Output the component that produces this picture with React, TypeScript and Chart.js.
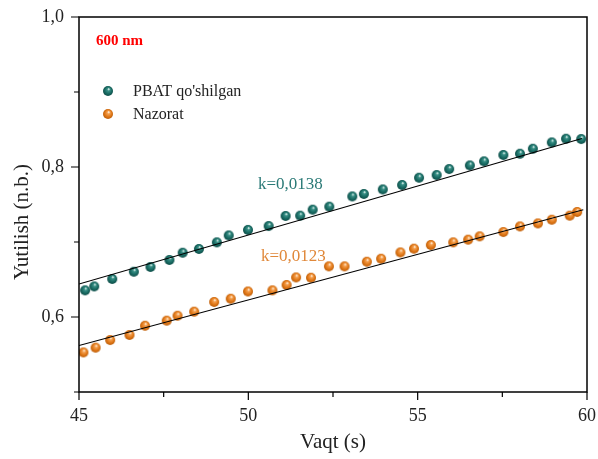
import React, { useEffect, useRef } from "react";
import { Chart, registerables } from "chart.js";
Chart.register(...registerables);

const pbatLabel = "PBAT qo'shilgan";
const nazLabel = "Nazorat";

const pbatX = [45.18, 45.45, 45.98, 46.62, 47.11, 47.67, 48.06, 48.54, 49.07, 49.42, 49.99, 50.6, 51.1, 51.53, 51.9, 52.39, 53.07, 53.41, 53.97, 54.54, 55.04, 55.56, 55.93, 56.54, 56.96, 57.53, 58.02, 58.4, 58.96, 59.38, 59.83];
const pbatY = [0.6355, 0.6408, 0.6507, 0.6604, 0.6667, 0.676, 0.6857, 0.6907, 0.6995, 0.7088, 0.7161, 0.7213, 0.7347, 0.7351, 0.7431, 0.7471, 0.7608, 0.764, 0.7701, 0.776, 0.7857, 0.7893, 0.7973, 0.8021, 0.8075, 0.816, 0.8177, 0.8244, 0.8328, 0.8377, 0.8373];

const nazX = [45.13, 45.49, 45.92, 46.49, 46.95, 47.59, 47.91, 48.4, 48.99, 49.48, 49.99, 50.71, 51.13, 51.41, 51.85, 52.38, 52.84, 53.5, 53.92, 54.49, 54.89, 55.39, 56.05, 56.49, 56.83, 57.53, 58.02, 58.55, 58.96, 59.49, 59.71];
const nazY = [0.5528, 0.5591, 0.5693, 0.576, 0.5884, 0.5951, 0.6017, 0.6071, 0.62, 0.6244, 0.634, 0.6355, 0.6427, 0.6528, 0.6524, 0.6675, 0.6675, 0.6737, 0.6777, 0.6861, 0.6911, 0.696, 0.6995, 0.7031, 0.7075, 0.7133, 0.7208, 0.7248, 0.7297, 0.7351, 0.74];

const pbatFitX = [45, 59.85];
const pbatFitY = [0.644, 0.838];
const nazFitX = [45, 59.89];
const nazFitY = [0.562, 0.743];

const xLabeledTicks = [45, 50, 55, 60];
const yLabeledTicks = [0.6, 0.8, 1.0];

const titleText = "600 nm";
const pbatK = "k=0,0138";
const nazK = "k=0,0123";
const xTitle = "Vaqt (s)";
const yTitle = "Yutilish (n.b.)";

const TEAL = "#1a6e66";
const ORANGE = "#e07818";
const SERIF = "'Liberation Serif', 'Times New Roman', serif";

function sphere(stops: [number, string][]): HTMLCanvasElement {
  const c = document.createElement("canvas");
  const r = 5;
  c.width = 12;
  c.height = 12;
  const g = c.getContext("2d")!;
  const grad = g.createRadialGradient(6.8, 4.0, 0.3, 6, 6, r + 0.5);
  stops.forEach(([o, col]) => grad.addColorStop(o, col));
  g.fillStyle = grad;
  g.beginPath();
  g.arc(6, 6, r, 0, Math.PI * 2);
  g.fill();
  return c;
}

const zip = (xs: number[], ys: number[]) => xs.map((x, i) => ({ x, y: ys[i] }));

const zeroPad = (s: any) => {
  s.paddingTop = 0;
  s.paddingBottom = 0;
  s.paddingLeft = 0;
  s.paddingRight = 0;
};

export default function App() {
  const ref = useRef<HTMLCanvasElement>(null);
  useEffect(() => {
    const tealSphere = sphere([
      [0, "#e6f4f1"],
      [0.22, "#3a9187"],
      [0.6, "#196b63"],
      [1, "#0c4742"],
    ]);
    const orangeSphere = sphere([
      [0, "#fff0dc"],
      [0.22, "#f4a050"],
      [0.6, "#e07818"],
      [1, "#b55806"],
    ]);

    const decor = {
      id: "decor",
      afterDraw(chart: any) {
        const { ctx, chartArea: a, scales } = chart;
        const xs = scales.x;
        const ys = scales.y;
        ctx.save();
        ctx.strokeStyle = "#000";
        ctx.lineWidth = 1.5;
        ctx.strokeRect(a.left, a.top, a.right - a.left, a.bottom - a.top);
        ctx.lineWidth = 1.2;
        ctx.beginPath();
        xs.ticks.forEach((t: any) => {
          const p = xs.getPixelForValue(t.value);
          const major = xLabeledTicks.some((v) => Math.abs(v - t.value) < 1e-6);
          ctx.moveTo(p, a.bottom);
          ctx.lineTo(p, a.bottom + (major ? 8 : 5));
        });
        ys.ticks.forEach((t: any) => {
          const p = ys.getPixelForValue(t.value);
          const major = yLabeledTicks.some((v) => Math.abs(v - t.value) < 1e-6);
          ctx.moveTo(a.left, p);
          ctx.lineTo(a.left - (major ? 8 : 5), p);
        });
        ctx.stroke();

        // header text
        ctx.fillStyle = "#ff0000";
        ctx.font = `bold 15px ${SERIF}`;
        ctx.textAlign = "left";
        ctx.textBaseline = "middle";
        ctx.fillText(titleText, 96, 41);

        // legend
        ctx.font = `16px ${SERIF}`;
        ctx.fillStyle = "#222";
        ctx.drawImage(tealSphere, 108 - 6, 91 - 6);
        ctx.fillText(pbatLabel, 133, 92);
        ctx.drawImage(orangeSphere, 108 - 6, 114 - 6);
        ctx.fillText(nazLabel, 133, 115);

        // k annotations
        ctx.font = `17px ${SERIF}`;
        ctx.fillStyle = "#2b7a77";
        ctx.fillText(pbatK, 258, 185);
        ctx.fillStyle = "#e0883a";
        ctx.fillText(nazK, 261, 257);

        // axis titles
        ctx.fillStyle = "#222";
        ctx.font = `21px ${SERIF}`;
        ctx.textAlign = "center";
        ctx.fillText(xTitle, (a.left + a.right) / 2, 442);
        ctx.translate(22, 222);
        ctx.rotate(-Math.PI / 2);
        ctx.fillText(yTitle, 0, 0);
        ctx.restore();
      },
    };

    const chart = new Chart(ref.current!, {
      type: "scatter",
      data: {
        datasets: [
          {
            label: "fit1",
            data: zip(pbatFitX, pbatFitY),
            showLine: true,
            borderColor: "#000",
            borderWidth: 1.2,
            pointRadius: 0,
          },
          {
            label: "fit2",
            data: zip(nazFitX, nazFitY),
            showLine: true,
            borderColor: "#000",
            borderWidth: 1.2,
            pointRadius: 0,
          },
          {
            label: pbatLabel,
            data: zip(pbatX, pbatY),
            pointStyle: tealSphere as any,
            pointRadius: 5,
            backgroundColor: TEAL,
          },
          {
            label: nazLabel,
            data: zip(nazX, nazY),
            pointStyle: orangeSphere as any,
            pointRadius: 5,
            backgroundColor: ORANGE,
          },
        ],
      },
      options: {
        animation: false,
        responsive: false,
        maintainAspectRatio: false,
        layout: { padding: { top: 17, right: 11, left: 0, bottom: 0 } },
        plugins: { legend: { display: false }, tooltip: { enabled: false } },
        scales: {
          x: {
            type: "linear",
            min: 45,
            max: 60,
            grid: { display: false },
            border: { display: false },
            ticks: {
              stepSize: 2.5,
              padding: 5,
              color: "#222",
              font: { family: SERIF, size: 18 },
              maxRotation: 0,
              callback: (v: any) =>
                xLabeledTicks.some((t) => Math.abs(t - v) < 1e-6) ? String(v) : "",
            },
            afterFit: (s: any) => {
              s.height = 67;
              zeroPad(s);
            },
          },
          y: {
            type: "linear",
            min: 0.5,
            max: 1.0,
            grid: { display: false },
            border: { display: false },
            ticks: {
              stepSize: 0.1,
              padding: 7,
              color: "#222",
              font: { family: SERIF, size: 18 },
              callback: (v: any) =>
                yLabeledTicks.some((t) => Math.abs(t - v) < 1e-6)
                  ? Number(v).toFixed(1).replace(".", ",")
                  : "",
            },
            afterFit: (s: any) => {
              s.width = 79;
              zeroPad(s);
            },
          },
        },
      },
      plugins: [decor],
    });
    return () => chart.destroy();
  }, []);

  return (
    <div style={{ position: "fixed", left: 0, top: 0, width: 598, height: 459, background: "#fff" }}>
      <canvas ref={ref} width={598} height={459} style={{ width: 598, height: 459 }} />
    </div>
  );
}
